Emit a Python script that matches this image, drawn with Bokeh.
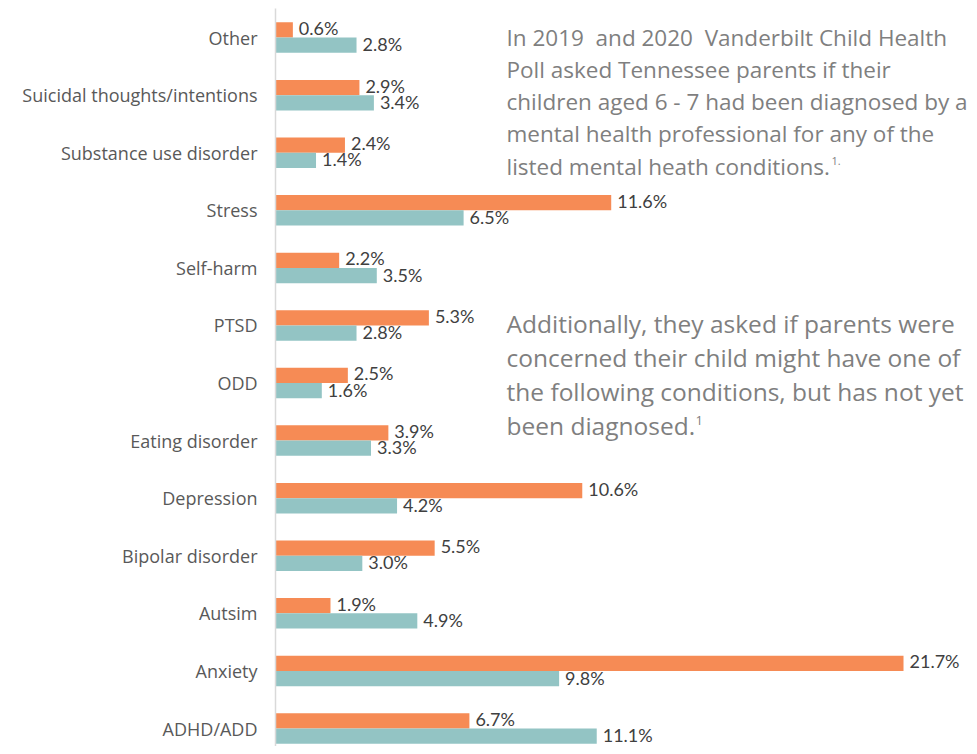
from bokeh.plotting import figure
from bokeh.models import ColumnDataSource, FixedTicker, Label
from bokeh.core.properties import value
from bokeh.embed import file_html
from bokeh.resources import INLINE

categories = ["ADHD/ADD", "Anxiety", "Autsim", "Bipolar disorder", "Depression",
              "Eating disorder", "ODD", "PTSD", "Self-harm", "Stress",
              "Substance use disorder", "Suicidal thoughts/intentions", "Other"]
concerned_pct = [6.7, 21.7, 1.9, 5.5, 10.6, 3.9, 2.5, 5.3, 2.2, 11.6, 2.4, 2.9, 0.6]
diagnosed_pct = [11.1, 9.8, 4.9, 3.0, 4.2, 3.3, 1.6, 2.8, 3.5, 6.5, 1.4, 3.4, 2.8]

para1 = ["In 2019\u00a0 and 2020\u00a0 Vanderbilt Child Health",
         "Poll asked Tennessee parents if their",
         "children aged 6 - 7 had been diagnosed by a",
         "mental health professional for any of the",
         "listed mental heath conditions."]
para2 = ["Additionally, they asked if parents were",
         "concerned their child might have one of",
         "the following conditions, but has not yet",
         "been diagnosed."]

ORANGE = "#F68B55"
TEAL = "#93C4C4"
FONT = "Open Sans"
VFONT = "Lato"

idx = list(range(len(categories)))
bar_h = 0.265
off = bar_h / 2

src = ColumnDataSource(dict(
    y_c=[i + off for i in idx],
    y_d=[i - off for i in idx],
    c=concerned_pct,
    d=diagnosed_pct,
    lc=[f"{v:.1f}%" for v in concerned_pct],
    ld=[f"{v:.1f}%" for v in diagnosed_pct],
))

Y_TOP = 12.505
PX_PER_UNIT = 57.58
PX_PER_PCT = 28.94

p = figure(width=969, height=746, x_range=(0, 23.98), y_range=(-0.3126, Y_TOP),
           output_backend="svg", toolbar_location=None,
           min_border_left=275, min_border_right=0, min_border_top=8, min_border_bottom=0)

p.hbar(y="y_c", right="c", left=0, height=bar_h, source=src, color=ORANGE, line_color=None)
p.hbar(y="y_d", right="d", left=0, height=bar_h, source=src, color=TEAL, line_color=None)

p.text(x="c", y="y_c", text="lc", source=src, x_offset=6, y_offset=-2,
       text_font=value(VFONT), text_font_size="18px", text_color="#404040",
       text_baseline="middle", text_align="left")
p.text(x="d", y="y_d", text="ld", source=src, x_offset=6, y_offset=-1,
       text_font=value(VFONT), text_font_size="18px", text_color="#404040",
       text_baseline="middle", text_align="left")

p.xaxis.visible = False
p.xgrid.visible = False
p.ygrid.visible = False
p.outline_line_color = None

ya = p.yaxis[0]
ya.ticker = FixedTicker(ticks=idx)
ya.major_label_overrides = {i: c for i, c in zip(idx, categories)}
ya.major_tick_line_color = None
ya.minor_tick_line_color = None
ya.major_tick_out = 0
ya.major_tick_in = 0
ya.major_label_standoff = 18
ya.axis_line_color = "#D9D9D9"
ya.axis_line_width = 1.5
ya.major_label_text_font = FONT
ya.major_label_text_font_size = "18px"
ya.major_label_text_color = "#595959"


def ydata(img_y):
    return Y_TOP - (img_y - 8) / PX_PER_UNIT


def xdata(img_x):
    return (img_x - 275) / PX_PER_PCT


for k, line in enumerate(para1):
    p.add_layout(Label(x=xdata(506), y=ydata(36.6 + 32.25 * k), text=line, text_font=FONT,
                       text_font_size="22.5px", text_color="#7F7F7F",
                       text_baseline="middle"))
p.add_layout(Label(x=xdata(831), y=ydata(161), text="1.",
                   text_font=FONT, text_font_size="11px", text_color="#7F7F7F",
                   text_baseline="middle"))
for k, line in enumerate(para2):
    p.add_layout(Label(x=xdata(506), y=ydata(323 + 34 * k), text=line, text_font=FONT,
                       text_font_size="24.5px", text_color="#7F7F7F",
                       text_baseline="middle"))
p.add_layout(Label(x=xdata(695), y=ydata(420), text="1",
                   text_font=FONT, text_font_size="13px", text_color="#7F7F7F",
                   text_baseline="middle"))

open("out.html", "w").write(file_html(p, INLINE))
